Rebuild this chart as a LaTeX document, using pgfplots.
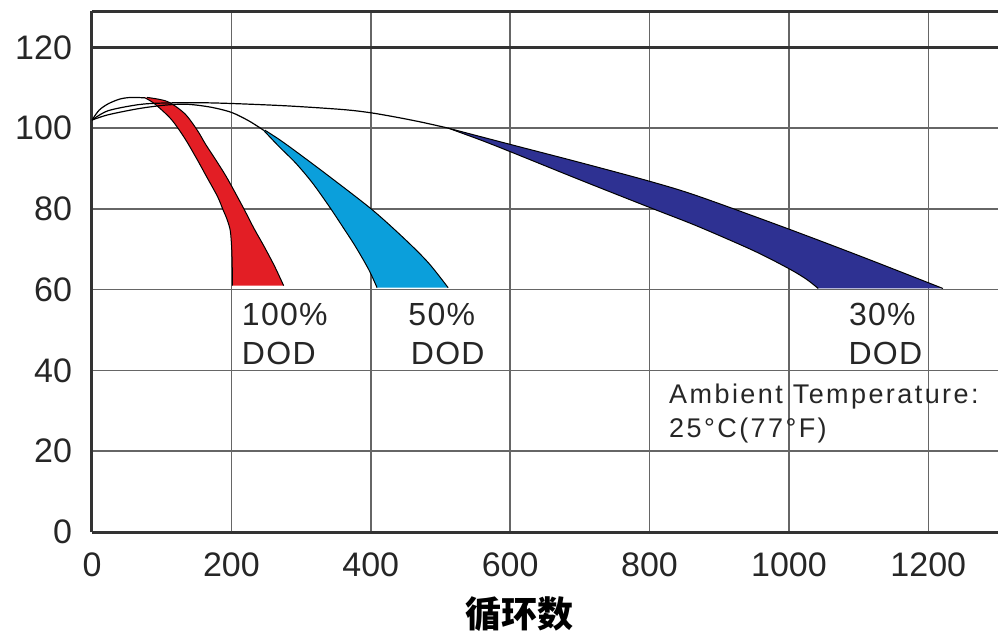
\documentclass[border=0pt]{standalone}
\usepackage{fontspec}
\setmainfont{Liberation Sans}
\newfontfamily\cjk{Noto Sans CJK SC}
\newfontfamily\trackA{Liberation Sans}[LetterSpace=4]
\newfontfamily\trackB{Liberation Sans}[LetterSpace=9]
\usepackage{pgfplots}
\usepgfplotslibrary{fillbetween}
\pgfplotsset{compat=1.18}

\definecolor{dodred}{HTML}{E31E25}
\definecolor{dodblue}{HTML}{0B9FDB}
\definecolor{dodnavy}{HTML}{2E3192}

\begin{document}
\begin{tikzpicture}
\begin{axis}[
    at={(0,0)}, anchor=south west,
    scale only axis, width=453pt, height=260.5pt,
    xmin=0, xmax=1300, ymin=0, ymax=129,
    xtick={0,200,...,1200}, ytick={0,20,...,120},
    set layers,
    grid=major,
    grid style={draw=black!60, line width=0.75pt},
    major tick length=0pt,
    axis x line=box, axis y line=left,
    axis line style={-, draw=black!80, line width=1.5pt},
    /pgf/number format/assume math mode=true,
    /pgf/number format/1000 sep={},
    tick label style={font=\fontsize{17}{20}\selectfont, text=black!85},
    xticklabel style={yshift=-7pt},
    yticklabel style={xshift=-6.5pt},
    xlabel={\cjk\bfseries 循环数},
    xlabel style={at={(axis cs:614,0)}, anchor=center, yshift=-41pt,
                  font=\fontsize{18}{20}\selectfont},
    edge/.style={black, line width=0.5pt, smooth},
]

% thick reference line at 120
\addplot [draw=black!80, line width=1.5pt] coordinates {(0,120) (1300,120)};

% rising parts of the three curves
\addplot [black, line width=0.6pt, smooth] coordinates {
  (0,102) (10,104.4) (23,106) (40,107.2) (56,107.6) (76,107.5)
};
\addplot [black, line width=0.6pt, smooth] coordinates {
  (0,102) (23,103.3) (66,104.8) (105,105.7) (137,105.9) (170,105.2)
  (200,103.9) (225,101.8) (246,99.5)
};
\addplot [black, line width=0.6pt, smooth] coordinates {
  (0,102) (23,104.3) (66,105.8) (100,106.2) (150,106.3) (200,106.1)
  (281,105.5) (360,104.6) (400,103.8) (440,102.6) (475,101.4) (511,100)
};

% 100% DOD
\addplot [edge, name path=redL] coordinates {
  (76,107.5) (90,106) (113.6,102.2) (133,97.5) (150,92.5) (165,87.8)
  (180,83.1) (188,79.8) (194,77.3) (198.5,74.5) (200.5,70) (201.3,65) (201.5,61)
};
\addplot [edge, name path=redR] coordinates {
  (79,107.6) (108,106.6) (133,103.6) (151,99.5) (163,96) (180,91.5)
  (195,87.3) (218.6,79.8) (232,75.3) (247,70.7) (262,65.8) (275,61)
};
\addplot [dodred] fill between [of=redL and redR];

% 50% DOD
\addplot [edge, name path=bluL] coordinates {
  (246,99.5) (268,95.5) (292,91.4) (316,86.5) (340,80.7) (360,75.5)
  (378,70.7) (397,65) (409,60.5)
};
\addplot [edge, name path=bluR] coordinates {
  (248,99.5) (268.6,97.2) (292,94.3) (340,88.1) (402,79.8) (449.6,72.4)
  (483,66.6) (511,60.5)
};
\addplot [dodblue] fill between [of=bluL and bluR];

% 30% DOD
\addplot [edge, name path=navU] coordinates {
  (511,100) (604,95.8) (700,91.5) (801,86.8) (869,83.2)
  (1000,75) (1110,67.8) (1221,60.3)
};
\addplot [edge, name path=navL] coordinates {
  (511,100) (560,96.9) (604,93.9) (700,87.2) (801,80.3) (869,75.7)
  (950,69.6) (1000,65.2) (1025,62.6) (1042,60.3)
};
\addplot [dodnavy] fill between [of=navU and navL];

\node [anchor=base west, inner sep=0pt, font={\trackA\fontsize{16}{18}\selectfont}, text=black!85]
  at (axis cs:214.6,51.2) {100\%};
\node [anchor=base west, inner sep=0pt, font={\trackA\fontsize{16}{18}\selectfont}, text=black!85]
  at (axis cs:214.6,41.4) {DOD};
\node [anchor=base west, inner sep=0pt, font={\trackA\fontsize{16}{18}\selectfont}, text=black!85]
  at (axis cs:453.5,51.2) {50\%};
\node [anchor=base west, inner sep=0pt, font={\trackA\fontsize{16}{18}\selectfont}, text=black!85]
  at (axis cs:457,41.4) {DOD};
\node [anchor=base west, inner sep=0pt, font={\trackA\fontsize{16}{18}\selectfont}, text=black!85]
  at (axis cs:1085.7,51.2) {30\%};
\node [anchor=base west, inner sep=0pt, font={\trackA\fontsize{16}{18}\selectfont}, text=black!85]
  at (axis cs:1085,41.4) {DOD};
\node [anchor=base west, inner sep=0pt, font={\trackB\fontsize{13.5}{16}\selectfont}, text=black!85]
  at (axis cs:827.7,31.7) {Ambient Temperature:};
\node [anchor=base west, inner sep=0pt, font={\trackB\fontsize{13.5}{16}\selectfont}, text=black!85]
  at (axis cs:827.7,23.3) {25°C(77°F)};
\end{axis}
\pgfresetboundingbox
\path (-46pt,-51pt) rectangle (453pt,266pt);
\end{tikzpicture}
\end{document}
